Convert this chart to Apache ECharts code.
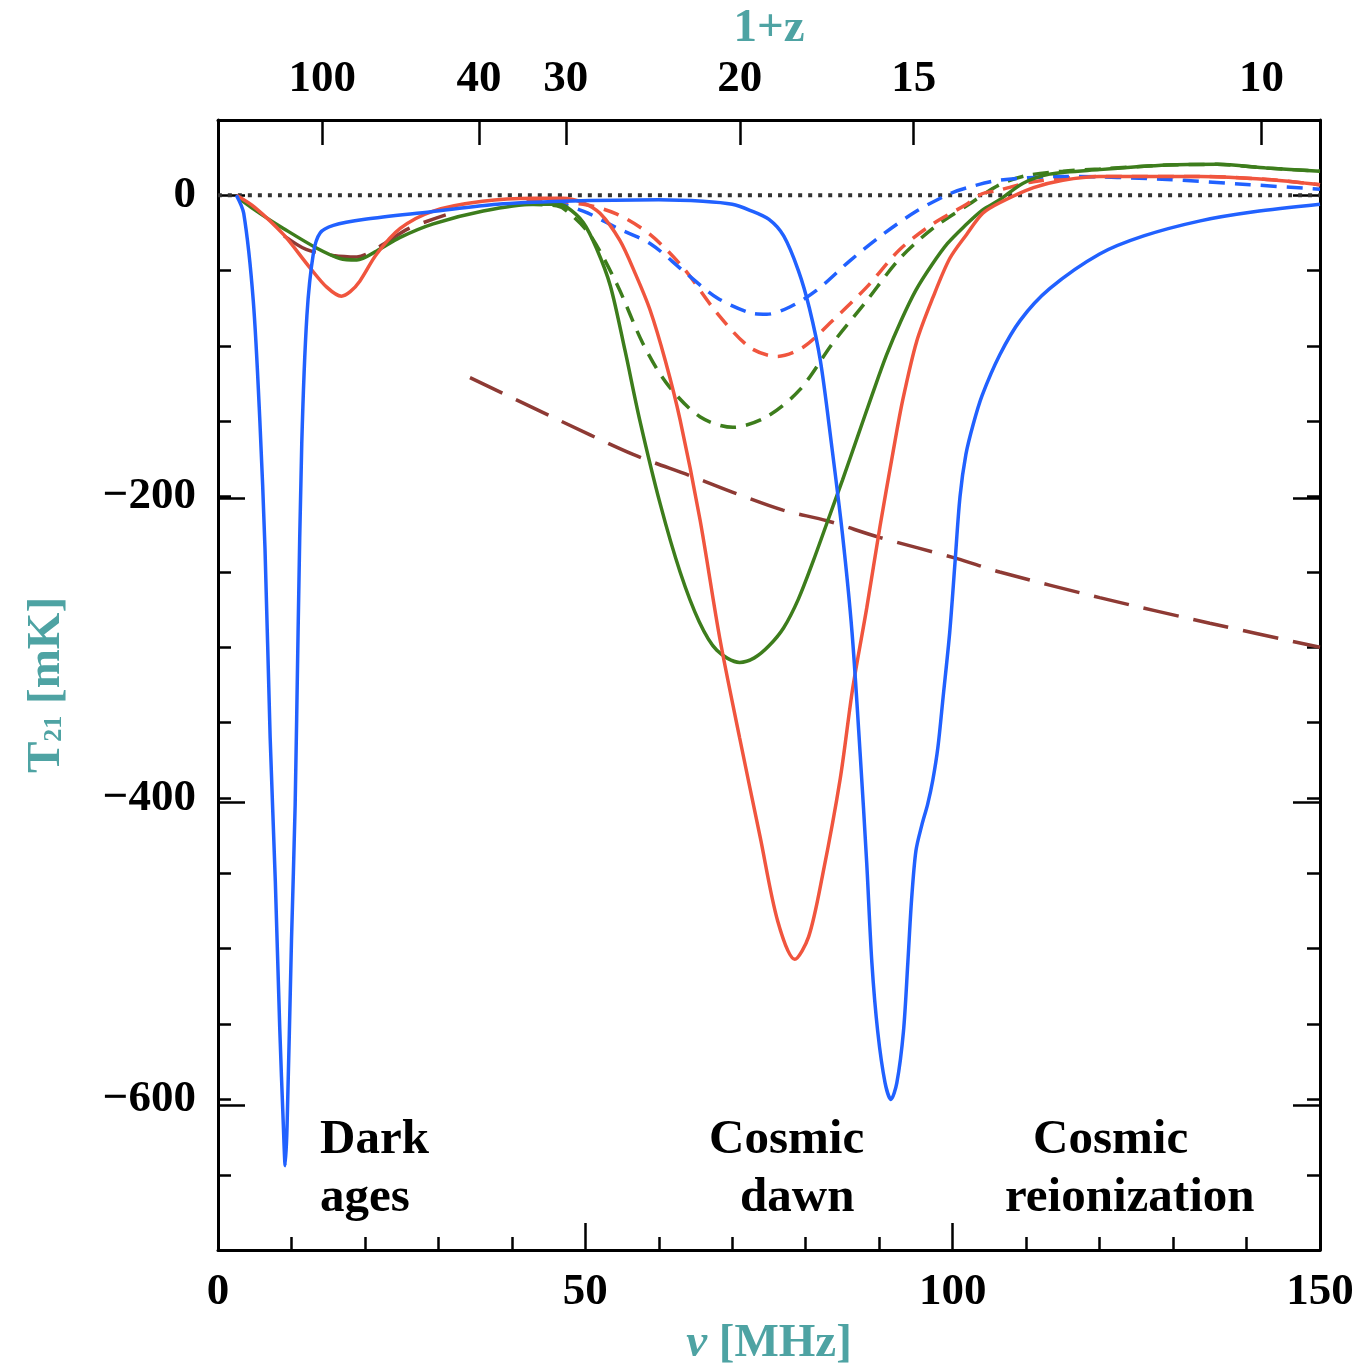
<!DOCTYPE html>
<html>
<head>
<meta charset="utf-8">
<script src="https://cdn.jsdelivr.net/npm/echarts@6/dist/echarts.min.js"></script>
<style>
html, body { margin: 0; padding: 0; background: #fff; overflow: hidden; }
#chart { width: 100vw; height: 100vh; }
</style>
</head>
<body>
<div id="chart"></div>
<script>
// frequency nu [MHz], brightness temperature T21 [mK]
const blueSolid = [
  [2.5, 0], [3.5, -12], [4.8, -70], [5.7, -150], [6.4, -235], [7.1, -360], [7.8, -455],
  [8.4, -552], [8.9, -618], [9.15, -644], [9.4, -618], [10.0, -495], [10.5, -405],
  [10.9, -290], [11.4, -165], [12.1, -80], [13.0, -38], [13.9, -25], [15.7, -20],
  [20, -16], [29, -11], [38, -6], [47, -4], [60, -3], [66, -4], [70, -6], [72.4, -10],
  [75, -16], [77, -27], [79, -50], [80.5, -75], [82, -110], [83.5, -165], [85, -225],
  [86.3, -290], [87.4, -370], [88.3, -443], [89, -509], [89.8, -555], [90.8, -589],
  [91.6, -600], [92.4, -589], [93.3, -555], [93.9, -509], [94.4, -468], [95, -435],
  [95.8, -418], [96.6, -404], [97.3, -388], [98, -366], [98.7, -333], [99.6, -290],
  [100.3, -245], [101, -200], [101.8, -172], [102.8, -152], [104, -133], [106.4, -106],
  [109.2, -83], [113.2, -62], [120, -39], [126, -27], [133.7, -17], [141, -11], [150, -6]
]
const redSolid = [
  [2.5, 0], [5, -8], [8.9, -26], [12.5, -48], [14.8, -61], [16.8, -67], [18, -64],
  [19.3, -57], [21.6, -39], [24.8, -22], [29.3, -10.5], [36, -4], [43, -2], [47, -2],
  [49.7, -5], [52, -12], [54.7, -30], [56.8, -52], [58.8, -76], [60.9, -110], [62.9, -149],
  [65.6, -215], [68.3, -294], [71, -360], [73.8, -426], [76.2, -482], [78.5, -507],
  [80.4, -492], [82.3, -451], [84.7, -387], [86.4, -327], [88.3, -274], [90.1, -220],
  [91.9, -170], [93.2, -136], [95.1, -97], [97.3, -68], [99.6, -42], [101.9, -26],
  [104.1, -12], [106.4, -5], [111, 5], [115, 10], [120, 12.5], [133.7, 12.5],
  [142.8, 10.5], [150, 7]
]
const greenSolid = [
  [2.5, 0], [3.4, -4], [6, -13], [8.9, -22], [13.4, -35], [16.6, -42], [18.9, -43],
  [21.6, -37], [24.8, -28], [29.3, -19], [36.1, -10.5], [42.9, -6], [46.1, -6],
  [47.5, -8], [49.7, -18], [51.5, -35], [53.4, -60], [55.4, -103], [57.4, -149],
  [60.2, -205], [62.9, -250], [65.5, -283], [67.9, -302], [71, -310], [73, -307],
  [75, -299], [77, -287], [79, -268], [81, -243], [83, -216], [85, -189], [87, -161],
  [89, -133], [91, -106], [93, -83], [95, -63], [97.2, -46], [99.3, -32], [101.5, -21],
  [104, -10], [106.4, -3], [109.6, 8], [113.2, 14], [120, 17], [129.2, 20], [136, 20.5],
  [142.8, 18], [150, 16]
]
const blueDashed = [
  [42, -5], [45.2, -5], [49.7, -10.5], [54.3, -21.7], [58.8, -32], [63.3, -50],
  [67.9, -68], [72.4, -78], [74.7, -79], [77.9, -74], [81.5, -63], [86, -43.5],
  [90.5, -26], [95.1, -10.5], [99.6, 1], [102, 5], [106.4, 10], [115.6, 12.5],
  [129.2, 10.5], [140.5, 7], [150, 4]
]
const redDashed = [
  [42, -3], [49.7, -6], [54.3, -12.5], [58.8, -26], [63.3, -48], [67.9, -78],
  [72.4, -101], [76.1, -107], [79.6, -101], [83.7, -83], [88.3, -61], [92.8, -36],
  [97.3, -19], [101.9, -6], [104, 1], [106, 3], [111, 9], [120, 12.5], [133.7, 12.5],
  [142.8, 10.5], [150, 7]
]
const greenDashed = [
  [42, -6], [46.1, -7], [47.5, -10.5], [50.6, -26], [54.3, -59], [57.8, -98],
  [61.1, -125], [65.6, -147], [70.1, -154], [74.7, -147], [79.2, -129], [83.7, -98],
  [88.3, -70], [92.8, -42], [97.3, -22], [101.9, -7], [106.4, 7], [110, 13], [115, 16],
  [120, 17.5], [129.2, 20], [136, 20.5], [142.8, 18], [150, 16]
]
const brownDashed = [
  [9, -27], [12, -36], [15.7, -40], [18.9, -41], [22, -34], [26, -22], [31, -13], null,
  [34.3, -121], [45, -146], [56.5, -172], [64.2, -186], [70, -197], [76.9, -209],
  [82.9, -216], [90, -227], [100.5, -241], [106.4, -250], [120, -267], [135, -284],
  [150, -300]
]
const zeroLine = [[0, 0], [150, 0]]

const redshiftTicks = [100, 40, 30, 20, 15, 10] // 1+z
const yLabelTicks = [-600, -400, -200, 0]

const NU21 = 1420.4
const nuTicks = redshiftTicks.map(z => NU21 / z)

const font = 'Liberation Serif'
const teal = '#4ea3a3'
const gridBox = { left: 218, right: 41, top: 119, bottom: 115 }
const minus = v => (v < 0 ? '\u2212' + (-v) : String(v))
const frame = { onZero: false, lineStyle: { color: '#000', width: 3 } }
const tickStyle = { color: '#000', width: 2.5 }

function line(name, data, color, type, width) {
  return {
    name: name,
    type: 'line',
    data: data,
    smooth: 0.3,
    symbol: 'none',
    connectNulls: false,
    lineStyle: { color: color, width: width || 3.5, type: type || 'solid' }
  }
}

const option = {
  animation: false,
  backgroundColor: '#fff',
  grid: [
    Object.assign({}, gridBox),
    Object.assign({}, gridBox)
  ],
  xAxis: [
    {
      gridIndex: 0,
      type: 'value',
      position: 'bottom',
      min: 0,
      max: 150,
      interval: 50,
      name: '{i|ν} [MHz]',
      nameLocation: 'middle',
      nameGap: 68,
      nameTextStyle: {
        color: teal,
        fontFamily: font,
        fontWeight: 'bold',
        fontSize: 47,
        rich: { i: { fontStyle: 'italic', fontWeight: 'bold', fontFamily: font, fontSize: 47, color: teal } }
      },
      axisLine: frame,
      axisTick: { inside: true, length: 27, lineStyle: tickStyle },
      minorTick: { show: true, splitNumber: 5, length: 13, lineStyle: tickStyle },
      splitLine: { show: false },
      axisLabel: { margin: 20, color: '#000', fontFamily: font, fontWeight: 'bold', fontSize: 45 }
    },
    {
      gridIndex: 0,
      type: 'value',
      position: 'top',
      min: 0,
      max: 150,
      name: '1+z',
      nameLocation: 'middle',
      nameGap: 64,
      nameTextStyle: { color: teal, fontFamily: font, fontWeight: 'bold', fontSize: 47 },
      axisLine: frame,
      axisTick: { inside: true, length: 25, customValues: nuTicks, lineStyle: tickStyle },
      splitLine: { show: false },
      axisLabel: {
        margin: 18,
        customValues: nuTicks,
        formatter: v => String(Math.round(NU21 / v)),
        color: '#000',
        fontFamily: font,
        fontWeight: 'bold',
        fontSize: 45
      }
    },
    { gridIndex: 1, type: 'value', min: 0, max: 150, show: false }
  ],
  yAxis: [
    {
      gridIndex: 0,
      type: 'value',
      position: 'left',
      min: -700,
      max: 50,
      interval: 50,
      name: 'T{sub|21} [mK]',
      nameLocation: 'middle',
      nameRotate: 90,
      nameGap: 148,
      nameTextStyle: {
        color: teal,
        fontFamily: font,
        fontWeight: 'bold',
        fontSize: 47,
        rich: { sub: { fontSize: 26, fontWeight: 'bold', color: teal, fontFamily: font, padding: [16, 0, 0, 0] } }
      },
      axisLine: frame,
      axisTick: { inside: true, length: 13, lineStyle: tickStyle },
      splitLine: { show: false },
      axisLabel: {
        margin: 22,
        customValues: yLabelTicks,
        formatter: minus,
        color: '#000',
        fontFamily: font,
        fontWeight: 'bold',
        fontSize: 45
      }
    },
    {
      gridIndex: 0,
      type: 'value',
      position: 'right',
      min: -700,
      max: 50,
      interval: 50,
      axisLine: frame,
      axisTick: { inside: true, length: 13, lineStyle: tickStyle },
      splitLine: { show: false },
      axisLabel: { show: false }
    },
    {
      gridIndex: 1,
      type: 'value',
      position: 'left',
      min: -700,
      max: 50,
      axisLine: { show: false, onZero: false },
      axisTick: { show: true, inside: true, length: 27, customValues: yLabelTicks, lineStyle: tickStyle },
      splitLine: { show: false },
      axisLabel: { show: false }
    },
    {
      gridIndex: 1,
      type: 'value',
      position: 'right',
      min: -700,
      max: 50,
      axisLine: { show: false, onZero: false },
      axisTick: { show: true, inside: true, length: 27, customValues: yLabelTicks, lineStyle: tickStyle },
      splitLine: { show: false },
      axisLabel: { show: false }
    }
  ],
  series: [
    line('zero', zeroLine, '#333', [4, 6], 4),
    line('brown', brownDashed, '#8e3a34', [36, 15], 3.5),
    line('green dashed', greenDashed, '#3d7d1c', [16, 10]),
    line('red dashed', redDashed, '#f0553e', [16, 10]),
    line('blue dashed', blueDashed, '#2161ff', [16, 10]),
    line('green', greenSolid, '#3d7d1c'),
    line('red', redSolid, '#f0553e'),
    line('blue', blueSolid, '#2161ff')
  ],
  graphic: [
    { type: 'text', left: 320, top: 1116, style: { text: 'Dark', font: 'bold 49px "Liberation Serif"', fill: '#000' } },
    { type: 'text', left: 320, top: 1174, style: { text: 'ages', font: 'bold 49px "Liberation Serif"', fill: '#000' } },
    { type: 'text', left: 709, top: 1116, style: { text: 'Cosmic', font: 'bold 49px "Liberation Serif"', fill: '#000' } },
    { type: 'text', left: 740, top: 1174, style: { text: 'dawn', font: 'bold 49px "Liberation Serif"', fill: '#000' } },
    { type: 'text', left: 1033, top: 1116, style: { text: 'Cosmic', font: 'bold 49px "Liberation Serif"', fill: '#000' } },
    { type: 'text', left: 1005, top: 1174, style: { text: 'reionization', font: 'bold 49px "Liberation Serif"', fill: '#000' } }
  ]
}

const chart = echarts.init(document.getElementById('chart'))
chart.setOption(option)
</script>
</body>
</html>
